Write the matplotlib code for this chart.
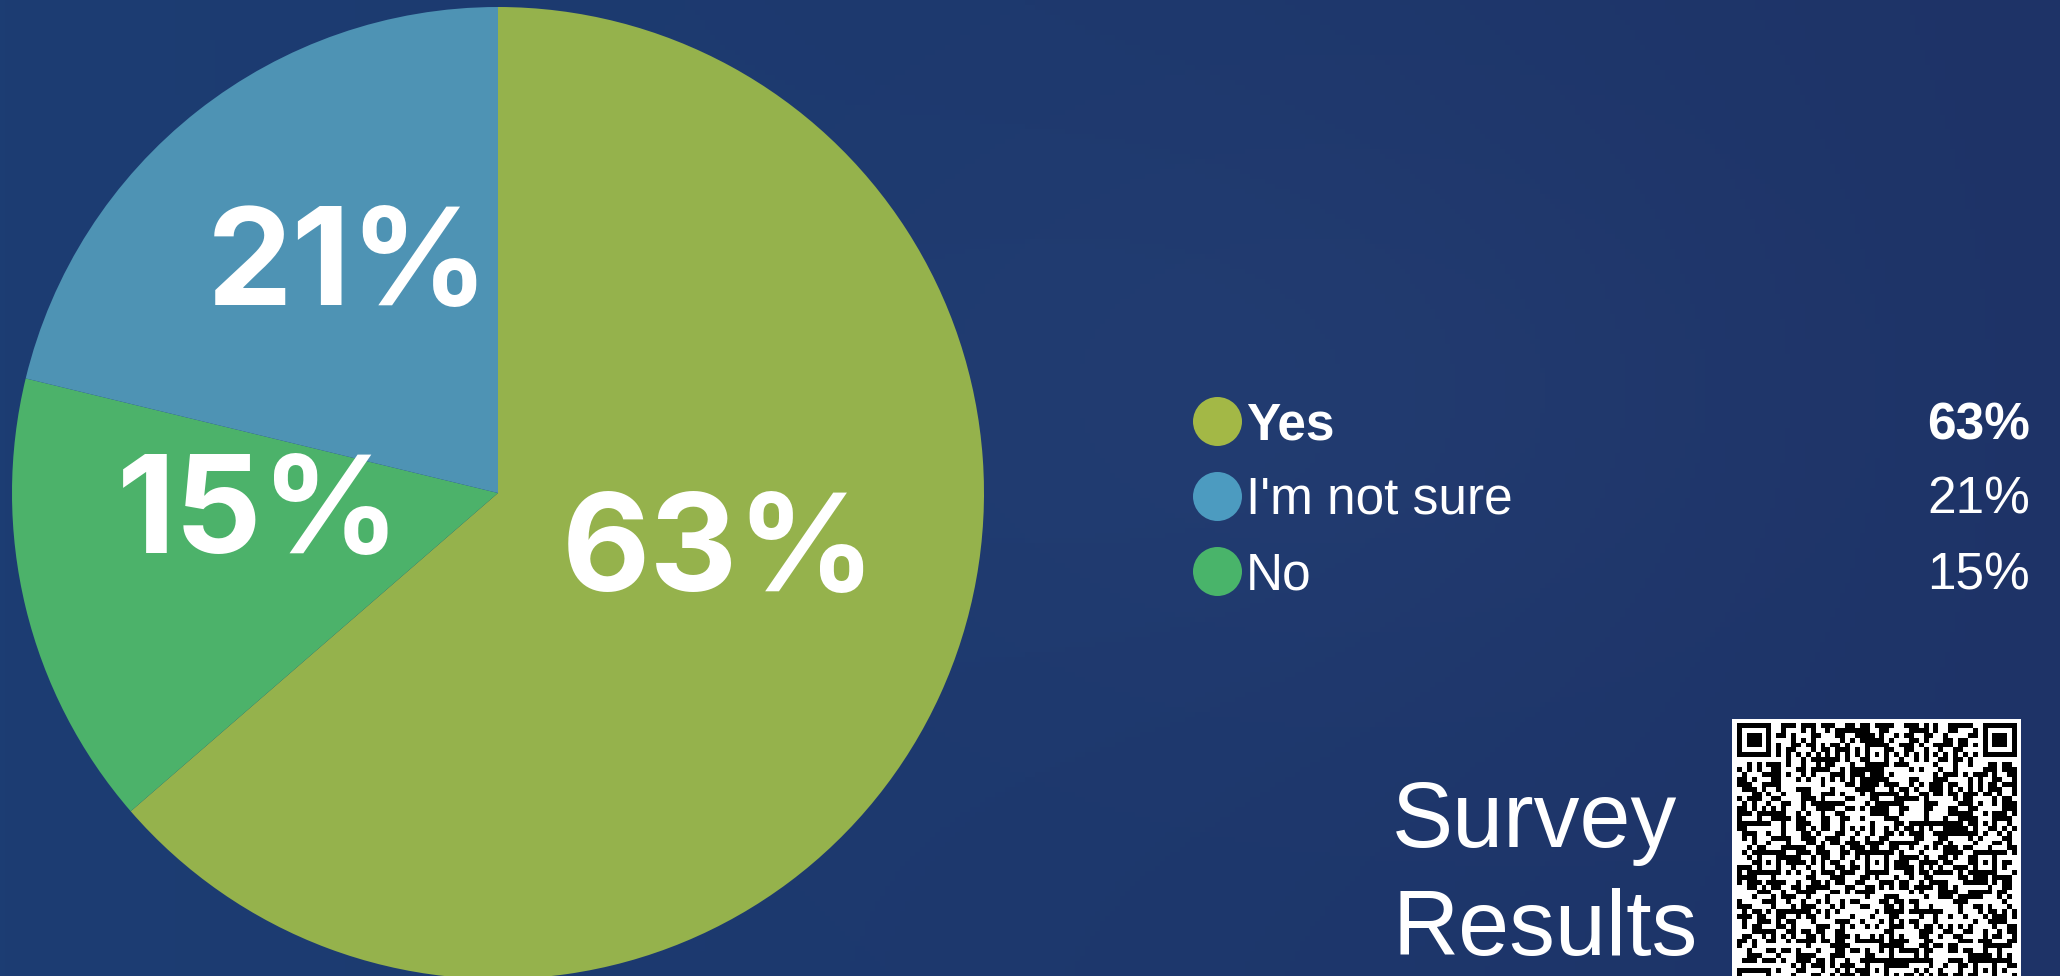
import hashlib
import numpy as np
import matplotlib
matplotlib.use("Agg")
import matplotlib.pyplot as plt
from matplotlib.colors import to_rgb

# ---------------- data ----------------
categories = ["Yes", "I'm not sure", "No"]
values = [63, 21, 15]
value_labels = ["63%", "21%", "15%"]
pie_order = [0, 2, 1]          # clockwise drawing order from 12 o'clock
title_lines = ["Survey", "Results"]

# ---------------- styles ----------------
W, H, DPI = 2060, 976, 100
slice_colors = {"Yes": "#95B24C", "I'm not sure": "#4E93B4", "No": "#4CB26A"}
dot_colors = {"Yes": "#A3B846", "I'm not sure": "#4C9BC0", "No": "#49B46A"}
# label anchor (center x, baseline y) in pie-radius units
label_pos = {"Yes": (0.455, -0.202), "I'm not sure": (-0.309, 0.387), "No": (-0.492, -0.123)}

fig = plt.figure(figsize=(W / DPI, H / DPI), dpi=DPI)

# background gradient
bg = fig.add_axes([0, 0, 1, 1], zorder=0)
bg.set_axis_off()
xx, yy = np.meshgrid(np.linspace(0, 1, 412), np.linspace(0, 1, 196))
c_left = np.array(to_rgb("#1C3D73"))
c_right = np.array(to_rgb("#1E3367"))
t = xx[..., None]
img = c_left * (1 - t) + c_right * t
glow = np.exp(-(((xx - 0.62) / 0.25) ** 2 + ((yy - 0.4) / 0.35) ** 2))[..., None]
img = img + glow * 0.018
bg.imshow(np.clip(img, 0, 1), extent=(0, 1, 0, 1), aspect="auto", origin="upper")
bg.set_xlim(0, 1)
bg.set_ylim(0, 1)

# pie axes: center (498, 493) px, radius 486 px
cx, cy, r = 498, 493, 486
pax = fig.add_axes([(cx - r) / W, (H - cy - r) / H, 2 * r / W, 2 * r / H], zorder=2)
pax.set_axis_off()
ordered_cats = [categories[i] for i in pie_order]
ordered_vals = [values[i] for i in pie_order]
ordered_lbls = [value_labels[i] for i in pie_order]
wedges, _, autotexts = pax.pie(
    ordered_vals,
    colors=[slice_colors[c] for c in ordered_cats],
    startangle=90,
    counterclock=False,
    radius=1.0,
    autopct="%1.0f%%",
    wedgeprops=dict(linewidth=0, antialiased=True),
    textprops=dict(color="white", fontsize=98, fontweight="bold", family=["Inter", "DejaVu Sans"]),
)
for txt, cat, lbl in zip(autotexts, ordered_cats, ordered_lbls):
    txt.set_text(lbl)
    txt.set_position(label_pos[cat])
    txt.set_ha("center")
    txt.set_va("baseline")
pax.set_xlim(-1, 1)
pax.set_ylim(-1, 1)
pax.set_aspect("equal")

# overlay axes in pixel coordinates
ov = fig.add_axes([0, 0, 1, 1], zorder=3)
ov.set_xlim(0, W)
ov.set_ylim(H, 0)
ov.set_axis_off()
ov.patch.set_alpha(0)

# legend
leg_x_dot, leg_x_text, leg_x_val = 1217, 1246, 2030
leg_y0, leg_dy = 421, 75
for i, (cat, lbl) in enumerate(zip(categories, value_labels)):
    y = leg_y0 + i * leg_dy
    ov.scatter([leg_x_dot], [y], s=(49 * 72 / DPI) ** 2, color=dot_colors[cat], linewidths=0, zorder=4)
    weight = "bold" if i == 0 else "normal"
    ov.text(leg_x_text, y + 18, cat, color="white", fontsize=37, fontweight=weight,
            family=["Liberation Sans", "DejaVu Sans"], ha="left", va="baseline", zorder=5)
    ov.text(leg_x_val, y + 18, lbl, color="white", fontsize=37, fontweight=weight,
            family=["Liberation Sans", "DejaVu Sans"], ha="right", va="baseline", zorder=5)

# title text
for j, line in enumerate(title_lines):
    ov.text(1392, 847 + j * 108, line, color="white", fontsize=66,
            family=["Liberation Sans", "DejaVu Sans"], ha="left", va="baseline", zorder=5)

# QR-style code (decorative)
N = 57
qr = np.zeros((N, N), dtype=float)
reserved = np.zeros((N, N), dtype=bool)
def finder(r0, c0):
    for dr in range(-1, 8):
        for dc in range(-1, 8):
            rr, cc = r0 + dr, c0 + dc
            if 0 <= rr < N and 0 <= cc < N:
                reserved[rr, cc] = True
                on = (0 <= dr <= 6 and 0 <= dc <= 6) and (
                    dr in (0, 6) or dc in (0, 6) or (2 <= dr <= 4 and 2 <= dc <= 4))
                qr[rr, cc] = 1 if on else 0
finder(0, 0); finder(0, N - 7); finder(N - 7, 0)
for k in range(8, N - 8):
    qr[6, k] = qr[k, 6] = 1 if k % 2 == 0 else 0
    reserved[6, k] = reserved[k, 6] = True
for ar in (6, 28, 50):
    for ac in (6, 28, 50):
        if (ar, ac) in ((6, 6), (6, 50), (50, 6)):
            continue
        for dr in range(-2, 3):
            for dc in range(-2, 3):
                reserved[ar + dr, ac + dc] = True
                qr[ar + dr, ac + dc] = 1 if max(abs(dr), abs(dc)) != 1 else 0
for rr in range(N):
    for cc in range(N):
        if not reserved[rr, cc]:
            hbyte = hashlib.md5(f"{rr}-{cc}".encode()).digest()[0]
            qr[rr, cc] = 1 if hbyte < 128 else 0
ov.add_patch(plt.Rectangle((1732, 719), 289, 300, color="white", zorder=4, linewidth=0))
mod = 4.9
qx0, qy0 = 1737, 723
ov.imshow(1 - qr, cmap="gray", vmin=0, vmax=1, interpolation="nearest",
          extent=(qx0, qx0 + N * mod, qy0 + N * mod, qy0), zorder=5, aspect="auto")
ov.set_xlim(0, W)
ov.set_ylim(H, 0)

fig.savefig("out.png", dpi=DPI)
